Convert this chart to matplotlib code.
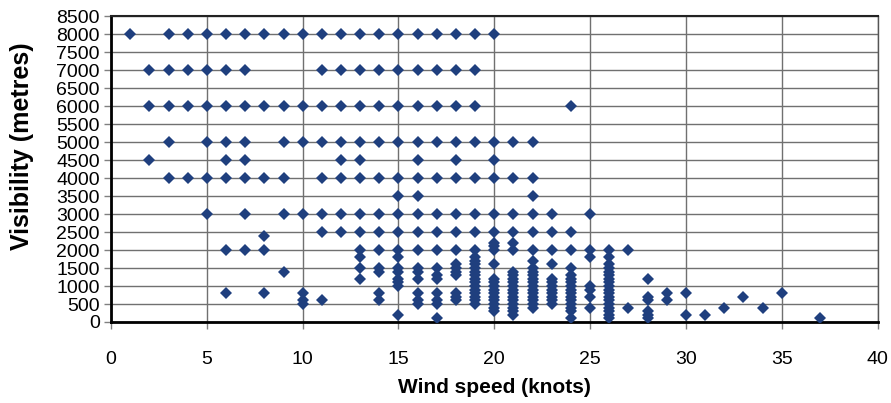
import matplotlib
matplotlib.use("Agg")
import matplotlib.pyplot as plt
from matplotlib.ticker import MultipleLocator

plt.rcParams['font.family'] = ['Liberation Sans', 'DejaVu Sans']

# ---- data: rows (visibility level -> wind speeds) for upper part ----
row_8000 = [1, 3, 4, 5, 6, 7, 8, 9, 10, 11, 12, 13, 14, 15, 16, 17, 18, 19, 20]
row_7000 = [2, 3, 4, 5, 6, 7, 11, 12, 13, 14, 15, 16, 17, 18, 19]
row_6000 = [2, 3, 4, 5, 6, 7, 8, 9, 10, 11, 12, 13, 14, 15, 16, 17, 18, 19, 24]
row_5000 = [3, 5, 6, 7, 9, 10, 11, 12, 13, 14, 15, 16, 17, 18, 19, 20, 21, 22]
row_4500 = [2, 6, 7, 12, 13, 16, 18, 20]
row_4000 = [3, 4, 5, 6, 7, 8, 9, 11, 12, 13, 14, 15, 16, 17, 18, 19, 20, 21, 22]
row_3500 = [15, 16, 22]
row_3000 = [5, 7, 9, 10, 11, 12, 13, 14, 15, 16, 17, 18, 19, 20, 21, 22, 23, 25]
row_2500 = [11, 12, 13, 14, 15, 16, 17, 18, 19, 20, 21, 22, 23, 24]

rows = {8000: row_8000, 7000: row_7000, 6000: row_6000, 5000: row_5000,
        4500: row_4500, 4000: row_4000, 3500: row_3500, 3000: row_3000,
        2500: row_2500}

# ---- data: columns (wind speed -> visibilities) below 2500 m ----
col_6 = [800, 2000]
col_7 = [2000]
col_8 = [800, 2000, 2400]
col_9 = [1400]
col_10 = [500, 600, 800]
col_11 = [600]
col_13 = [1200, 1500, 1800, 2000]
col_14 = [600, 800, 1400, 1500, 2000]
col_15 = [200, 1000, 1100, 1200, 1400, 1500, 1800, 2000]
col_16 = [500, 600, 800, 1200, 1400, 1500, 2000]
col_17 = [100, 500, 600, 800, 1200, 1300, 1500, 2000]
col_18 = [600, 700, 800, 1300, 1400, 1500, 1600, 2000]
col_19 = [500, 600, 700, 800, 900, 1000, 1100, 1200, 1300, 1400, 1500, 1600, 1700, 1800, 2000]
col_20 = [300, 400, 500, 600, 700, 800, 900, 1000, 1100, 1200, 1600, 2000, 2100, 2200]
col_21 = [200, 300, 400, 500, 600, 700, 800, 900, 1000, 1100, 1200, 1300, 1400, 2000, 2200]
col_22 = [400, 500, 600, 700, 800, 900, 1000, 1100, 1200, 1300, 1400, 1500, 1700, 2000]
col_23 = [500, 600, 700, 800, 900, 1000, 1100, 1200, 1600, 2000]
col_24 = [100, 300, 400, 500, 600, 700, 800, 900, 1000, 1100, 1200, 1300, 1500, 2000]
col_25 = [400, 700, 900, 1000, 1800, 2000]
col_26 = [100, 200, 300, 400, 500, 600, 700, 800, 900, 1000, 1100, 1200, 1300, 1400,
          1500, 1600, 1800, 2000]
col_27 = [400, 2000]
col_28 = [100, 200, 300, 600, 700, 1200]
col_29 = [600, 800]
col_30 = [200, 800]
col_31 = [200]
col_32 = [400]
col_33 = [700]
col_34 = [400]
col_35 = [800]
col_37 = [100]

cols = {6: col_6, 7: col_7, 8: col_8, 9: col_9, 10: col_10, 11: col_11,
        13: col_13, 14: col_14, 15: col_15, 16: col_16, 17: col_17, 18: col_18,
        19: col_19, 20: col_20, 21: col_21, 22: col_22, 23: col_23, 24: col_24,
        25: col_25, 26: col_26, 27: col_27, 28: col_28, 29: col_29, 30: col_30,
        31: col_31, 32: col_32, 33: col_33, 34: col_34, 35: col_35, 37: col_37}

xs, ys = [], []
for v, ws in rows.items():
    for w in ws:
        xs.append(w); ys.append(v)
for w, vs in cols.items():
    for v in vs:
        xs.append(w); ys.append(v)

fig = plt.figure(figsize=(8.91, 4.03), dpi=100)
ax = fig.add_axes([0.1246, 0.201, 0.8604, 0.7586])

ax.plot(xs, ys, linestyle='none', marker='D', markersize=6.0,
        color='#1F3F7E', markeredgewidth=0, zorder=3)

ax.set_xlim(0, 40)
ax.set_ylim(0, 8500)
ax.xaxis.set_major_locator(MultipleLocator(5))
ax.yaxis.set_major_locator(MultipleLocator(500))
ax.grid(True, color='#707070', linewidth=1.0, zorder=0)
ax.set_axisbelow(True)

for side in ['left', 'bottom']:
    ax.spines[side].set_linewidth(2.0)
    ax.spines[side].set_color('black')
ax.spines['top'].set_linewidth(1.5)
ax.spines['top'].set_color('#222222')
ax.spines['right'].set_linewidth(1.0)
ax.spines['right'].set_color('#555555')

ax.tick_params(axis='both', labelsize=14, length=5, width=1, color='#808080', pad=3)
ax.tick_params(axis='x', pad=16)

ax.set_xlabel('Wind speed (knots)', fontsize=15, fontweight='bold', labelpad=7)
ax.set_ylabel('Visibility (metres)', fontsize=18, fontweight='bold')
ax.yaxis.set_label_coords(-0.101, 0.575)

fig.savefig('out.png', dpi=100)
